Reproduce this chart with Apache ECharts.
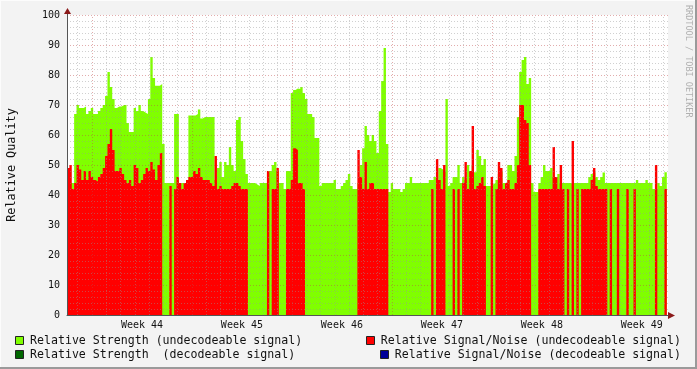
<!DOCTYPE html>
<html><head><meta charset="utf-8">
<script src="https://cdn.jsdelivr.net/npm/echarts@6/dist/echarts.min.js"></script>
<style>
html,body{margin:0;padding:0;background:#f3f3f3;}
#c{width:697px;height:369px;}
</style></head><body><div id="c"></div>
<script>
// ---- data (hours relative to Monday 00:00 of week 44, 4-hour bins) ----
const binHours = 4;
const startHour = -42;
const weekLabels = ['Week 44','Week 45','Week 46','Week 47','Week 48','Week 49'];
const weekLabelHours = [84, 252, 420, 588, 756, 924];
const yTickValues = [0,10,20,30,40,50,60,70,80,90,100];

// Relative Strength (undecodeable signal)
const strengthUndec = [
44,44,44,67,70,69,69,69.5,67,68,
69,67,67,68,69,70,73,81,76,72,
69,69.5,69.5,70,70,64,61,61,69,68,
70,68,67.5,67,72,86,79,76.4,76.4,77,
57,44,44,44,44,67,67,44,44,44,
45,66.5,66.5,66.5,67,68.5,65.5,66,66,66,
66,66,45,49,51,46,51,50,56,50,
48,65,66,58,52,47,44,44,44,43.5,
43,44,44,44,48,48,50,51,48,44,
44,42,48,48,74,75,75.5,75.3,76,74,
72,67,67,66,59,59,43,44,44,44,
44,44,45,42,42,43,44,45,47,43,
42,42,44,50,55.6,63,60,58,60,58,
54,68,78,89,57,41,44,42,42,42,
41,42,44,44,46,44,44,44,44,44,
44,44,45,45,46,44,49,48.5,48,72,
43,44,46,46,50,44,46,45,50,48,
50,47.6,55,53,50,52,43,43,43.5,44,
45,47,48,44,44,50,50,48,53,66,
81,85,86,77,79,44,41,41,44,46,
50,48,48,49,46,46,47,44,44,44,
44,44,44,44,44,44,44,44,44,46,
47,47.6,46,45,46,47.5,44,44,44,44,
44,44,44,44,44,44,44,44,44,45,
44,44,44,45,44,44,42,42,44,43,
46,47.6
];

// Relative Signal/Noise (undecodeable signal)
const snrUndec = [
49,50,42,44,50,48.5,45,48,45,48,
46,45,44.5,46,47,49,53,57,62,55,
48,48,49,47,45,44,45,43,50,49,
44,45,47,49,48,51,48.5,45,50,54,
0,0,0,43,0,42,46,44,42,44,
45,46,46,48,47,49,46,45,45,45,
44,43,53,42,43,42,42,42,42,43,
44,44,43,42,42,42,0,0,0,0,
0,0,0,0,48,0,42,42,49,0,
0,0,42,42,45,55.6,55,44,44,42,
0,0,0,0,0,0,0,0,0,0,
0,0,0,0,0,0,0,0,0,0,
0,0,55,46,42,51,42,44,44,42,
42,42,42,42,42,0,0,0,0,0,
0,0,0,0,0,0,0,0,0,0,
0,0,0,42,0,52,45,42,50,0,
0,0,42,0,42,0,44,51,42,48,
63,42,43,44,46,43,0,0,46,0,
42,51,49,42,44,45,42,42,44,50,
70,70,65,64,50,0,0,0,42,42,
42,42,42,42,56,46,42,50,42,0,
42,0,58,0,42,0,42,42,42,42,
45,49,43,42,42,42,42,0,42,0,
0,42,0,0,0,42,0,0,42,0,
0,0,0,0,0,0,0,50,0,0,
0,42
];

// Relative Strength (decodeable signal): sparse samples [hour, value]
const strengthDecHours = [];
const strengthDecValues = [];
// Relative Signal/Noise (decodeable signal)
const snrDecHours = [];
const snrDecValues = [];

// ---- build ----
const axisMin = startHour;
const axisMax = 968;
const dayLines = [];
for (let h = -24; h < axisMax; h += 24) if (h % 168 !== 0) dayLines.push(h);
const weekLines = [];
for (let h = 0; h < axisMax; h += 168) weekLines.push(h);

function stepData(vals){
  const d = vals.map((v,i)=>[startHour + i*binHours, v]);
  d.push([startHour + vals.length*binHours, vals[vals.length-1]]);
  return d;
}
function pairData(hs, vs){ return hs.map((h,i)=>[h, vs[i]]); }

const FONT = 'DejaVu Sans Mono';
const MINOR = 'rgba(150,150,150,0.45)';
const MAJOR = 'rgba(190,70,70,0.45)';

const chart = echarts.init(document.getElementById('c'), null, {renderer:'canvas'});
const legendItems = [
  {x:15, y:341, color:'#80FF00', text:'Relative Strength (undecodeable signal)', align:'left', tx:30},
  {x:366, y:341, color:'#FF0000', text:'Relative Signal/Noise (undecodeable signal)', align:'right', tx:681},
  {x:15, y:355, color:'#006600', text:'Relative Strength  (decodeable signal)', align:'left', tx:30},
  {x:380, y:355, color:'#000099', text:'Relative Signal/Noise (decodeable signal)', align:'right', tx:681}
];
const graphics = [];
legendItems.forEach(it=>{
  graphics.push({type:'rect', x:it.x+0.5, y:it.y-4.5, shape:{width:8,height:8}, style:{fill:it.color, stroke:'#222', lineWidth:1}, silent:true});
  graphics.push({type:'text', x:it.tx, y:it.y,
    style:{text:it.text, font:'11.6px "'+FONT+'"', fill:'#111', textAlign:it.align, textVerticalAlign:'middle'}, silent:true});
});
// axis extensions and arrows
graphics.push({type:'line', shape:{x1:67.5,y1:15,x2:67.5,y2:11}, style:{stroke:'#555',lineWidth:1}, silent:true});
graphics.push({type:'polygon', shape:{points:[[64,14],[71,14],[67.5,8]]}, style:{fill:'#8b1a1a'}, silent:true});
graphics.push({type:'line', shape:{x1:668,y1:315.5,x2:671,y2:315.5}, style:{stroke:'#555',lineWidth:1}, silent:true});
graphics.push({type:'polygon', shape:{points:[[668,312],[668,319],[675,315.5]]}, style:{fill:'#8b1a1a'}, silent:true});
// y-axis title and watermark
graphics.push({type:'text', x:12, y:165, rotation:Math.PI/2,
  style:{text:'Relative Quality', font:'11.8px "'+FONT+'"', fill:'#111', textAlign:'center', textVerticalAlign:'middle'}, silent:true});
graphics.push({type:'text', x:688, y:5, rotation:-Math.PI/2,
  style:{text:'RRDTOOL / TOBI OETIKER', font:'8.5px "'+FONT+'"', fill:'#b0b0b0', textAlign:'left', textVerticalAlign:'middle'}, silent:true});
// frame
graphics.push({type:'line', shape:{x1:0.5,y1:0,x2:0.5,y2:369}, style:{stroke:'#fcfcfc',lineWidth:1}, silent:true});
graphics.push({type:'line', shape:{x1:0,y1:0.5,x2:697,y2:0.5}, style:{stroke:'#fcfcfc',lineWidth:1}, silent:true});
graphics.push({type:'line', shape:{x1:696,y1:0,x2:696,y2:369}, style:{stroke:'#9a9a9a',lineWidth:2}, silent:true});
graphics.push({type:'line', shape:{x1:0,y1:368,x2:697,y2:368}, style:{stroke:'#9a9a9a',lineWidth:2}, silent:true});

const vLines = dayLines.map(h=>({xAxis:h, lineStyle:{color:MINOR}}))
  .concat(weekLines.map(h=>({xAxis:h, lineStyle:{color:MAJOR}})));

chart.setOption({
  animation:false,
  backgroundColor:'#f3f3f3',
  grid:{left:67, top:15, width:601, height:300, show:true, backgroundColor:'#ffffff', borderWidth:0},
  xAxis:{
    type:'value', min:axisMin, max:axisMax, z:6,
    axisLine:{show:true, onZero:false, lineStyle:{color:'#555', width:1}},
    axisTick:{show:false},
    splitLine:{show:false},
    axisLabel:{show:true, customValues:weekLabelHours, margin:5,
      formatter:(v)=>{const k = weekLabelHours.indexOf(v); return k>=0? weekLabels[k] : '';},
      fontFamily:FONT, fontSize:10, color:'#111'}
  },
  yAxis:{
    type:'value', min:0, max:100, interval:10, z:6,
    axisLine:{show:true, onZero:false, lineStyle:{color:'#555'}},
    axisTick:{show:false},
    axisLabel:{fontFamily:FONT, fontSize:10, color:'#111', margin:7,
      formatter:(v)=> yTickValues.indexOf(v)>=0 ? String(v) : ''},
    splitLine:{show:true, lineStyle:{color:MAJOR, type:[1,2], width:1}},
    minorTick:{show:false, splitNumber:5},
    minorSplitLine:{show:true, lineStyle:{color:MINOR, type:[1,2], width:1}}
  },
  series:[
    {type:'line', name:'Relative Strength (undecodeable signal)', data:stepData(strengthUndec), step:'end',
      symbol:'none', lineStyle:{opacity:0}, areaStyle:{color:'#80FF00', opacity:1}, z:2, silent:true,
      markLine:{silent:true, symbol:['none','none'], label:{show:false}, animation:false,
        lineStyle:{type:[1,2], width:1}, data:vLines}},
    {type:'line', name:'Relative Signal/Noise (undecodeable signal)', data:stepData(snrUndec), step:'end',
      symbol:'none', lineStyle:{opacity:0}, areaStyle:{color:'#FF0000', opacity:1}, z:3, silent:true},
    {type:'bar', name:'Relative Strength  (decodeable signal)', data:pairData(strengthDecHours, strengthDecValues),
      barWidth:1.2, itemStyle:{color:'#006600'}, z:4, silent:true},
    {type:'bar', name:'Relative Signal/Noise (decodeable signal)', data:pairData(snrDecHours, snrDecValues),
      barWidth:1.2, barGap:'-100%', itemStyle:{color:'#000099'}, z:4, silent:true}
  ],
  graphic:graphics
});
</script></body></html>
